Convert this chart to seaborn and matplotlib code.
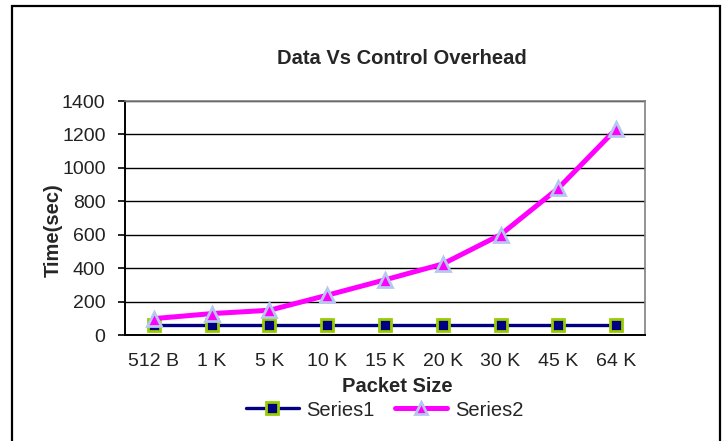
import matplotlib
matplotlib.use("Agg")
import matplotlib.pyplot as plt
import matplotlib.patches as mpatches
from matplotlib.lines import Line2D
import seaborn as sns
import pandas as pd

packet_sizes = ["512 B", "1 K", "5 K", "10 K", "15 K", "20 K", "30 K", "45 K", "64 K"]
series1 = [58, 58, 58, 58, 58, 58, 58, 58, 58]
series2 = [98, 128, 148, 238, 330, 425, 600, 878, 1232]

df = pd.DataFrame({"pos": range(len(packet_sizes)), "Series1": series1, "Series2": series2})

sns.set_style("white")
plt.rcParams["font.family"] = ["Liberation Sans", "DejaVu Sans"]

fig = plt.figure(figsize=(7.26, 4.41), dpi=100)
ax = fig.add_axes([125 / 726, 1 - 335 / 441, 520 / 726, 234 / 441])

s1_style = dict(color="#000080", lw=2.4, marker="s", markersize=9,
                markerfacecolor="#000080", markeredgecolor="#99cc00", markeredgewidth=2)
s2_style = dict(color="#ff00ff", lw=3.6, marker="^", markersize=10,
                markerfacecolor="#ff00ff", markeredgecolor="#b4c8f0", markeredgewidth=2)

sns.lineplot(data=df, x="pos", y="Series1", ax=ax, zorder=3, **s1_style)
sns.lineplot(data=df, x="pos", y="Series2", ax=ax, zorder=4, **s2_style)

ax.set_xlim(-0.5, len(packet_sizes) - 0.5)
ax.set_ylim(0, 1400)
ax.set_yticks(range(0, 1401, 200))
ax.yaxis.grid(True, color="black", lw=1)
ax.set_axisbelow(True)

ax.set_xticks(range(len(packet_sizes)))
ax.set_xticklabels(packet_sizes)
ax.set_xticks([i - 0.5 for i in range(len(packet_sizes) + 1)], minor=True)
ax.tick_params(axis="x", which="major", length=0, labelsize=14, pad=13, colors="#222222")
ax.tick_params(axis="x", which="minor", length=5, width=1.2, color="black", direction="out")
ax.tick_params(axis="y", length=5, width=1.2, color="black", direction="out", labelsize=14,
               labelcolor="#222222", left=True, pad=9)
ax.set_xlabel("")
ax.set_ylabel("")

for side in ["left", "bottom"]:
    ax.spines[side].set_color("black")
    ax.spines[side].set_linewidth(1.4)
for side in ["top", "right"]:
    ax.spines[side].set_color("#808080")
    ax.spines[side].set_linewidth(1.2)

fig.text(402 / 726, 1 - 58 / 441, "Data Vs Control Overhead", ha="center", va="center",
         fontsize=14.5, fontweight="bold")
fig.text(397 / 726, 1 - 386 / 441, "Packet Size", ha="center", va="center",
         fontsize=14.5, fontweight="bold")
fig.text(53 / 726, 1 - 230 / 441, "Time(sec)", ha="center", va="center", rotation=90,
         fontsize=14.5, fontweight="bold")

handles = [Line2D([], [], **s1_style), Line2D([], [], **s2_style)]
fig.legend(handles, ["Series1", "Series2"], loc="center", bbox_to_anchor=(385 / 726, 1 - 410 / 441),
           ncol=2, frameon=False, fontsize=14.5, handlelength=2.6, columnspacing=1.0,
           handletextpad=0.4, markerscale=0.9, borderpad=0)

fig.add_artist(mpatches.Rectangle((12 / 726, -10 / 441), 708 / 726, 445 / 441, transform=fig.transFigure,
                                  fill=False, edgecolor="black", lw=1.6))

fig.savefig("out.png", dpi=100)
